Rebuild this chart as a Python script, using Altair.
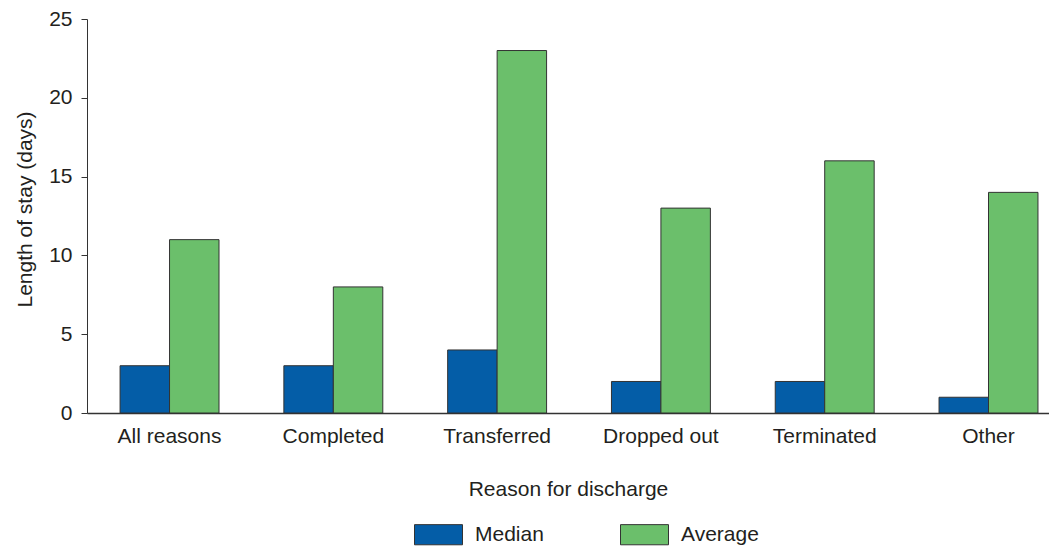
import altair as alt
import pandas as pd

reasons = ["All reasons", "Completed", "Transferred", "Dropped out", "Terminated", "Other"]
median_vals = [3, 3, 4, 2, 2, 1]
average_vals = [11, 8, 23, 13, 16, 14]
stats = ["Median", "Average"]
colors = ["#045DA7", "#6BBF6B"]

rows = []
for r, m, a in zip(reasons, median_vals, average_vals):
    rows.append({"reason": r, "stat": "Median", "value": m})
    rows.append({"reason": r, "stat": "Average", "value": a})
df = pd.DataFrame(rows)

FONT = "Liberation Sans"
TXT = "#231f20"

rect_path = "M-1,-0.42L1,-0.42L1,0.42L-1,0.42Z"

chart = alt.Chart(df).mark_bar(stroke="#333333", strokeWidth=1).encode(
    x=alt.X(
        "reason:N",
        sort=reasons,
        scale=alt.Scale(paddingInner=0.396, paddingOuter=0.1346, align=0.75),
        axis=alt.Axis(
            title="Reason for discharge",
            labelAngle=0,
            ticks=False,
            tickSize=0,
            labelPadding=12,
            titlePadding=32,
            domainColor="#333333",
            domainWidth=1.5,
        ),
    ),
    xOffset=alt.XOffset("stat:N", sort=stats, scale=alt.Scale(paddingInner=0, paddingOuter=0)),
    y=alt.Y(
        "value:Q",
        scale=alt.Scale(domain=[0, 25], nice=False),
        axis=alt.Axis(
            title="Length of stay (days)",
            values=[0, 5, 10, 15, 20, 25],
            grid=False,
            tickSize=6,
            labelPadding=9,
            titlePadding=13,
            titleY=190,
            domainColor="#333333",
            tickColor="#333333",
        ),
    ),
    color=alt.Color(
        "stat:N",
        sort=stats,
        scale=alt.Scale(domain=stats, range=colors),
        legend=alt.Legend(
            title=None,
            orient="none",
            direction="horizontal",
            legendX=327,
            legendY=491,
            symbolType=rect_path,
            symbolSize=2304,
            symbolStrokeColor="#333333",
            symbolStrokeWidth=1,
            symbolOpacity=1,
            labelOffset=12,
            columnPadding=74,
            labelFontSize=21,
            labelFont=FONT,
            labelColor=TXT,
            padding=0,
        ),
    ),
).properties(
    width=962,
    height=394,
    autosize=alt.AutoSizeParams(type="none"),
    padding={"left": 79, "top": 11, "right": 0, "bottom": 133},
).configure_axis(
    labelFont=FONT,
    titleFont=FONT,
    labelFontSize=21,
    titleFontSize=21,
    titleFontWeight="normal",
    labelColor=TXT,
    titleColor=TXT,
).configure_view(stroke=None)

chart.save("out.html", embed_options={"renderer": "svg", "actions": False})
